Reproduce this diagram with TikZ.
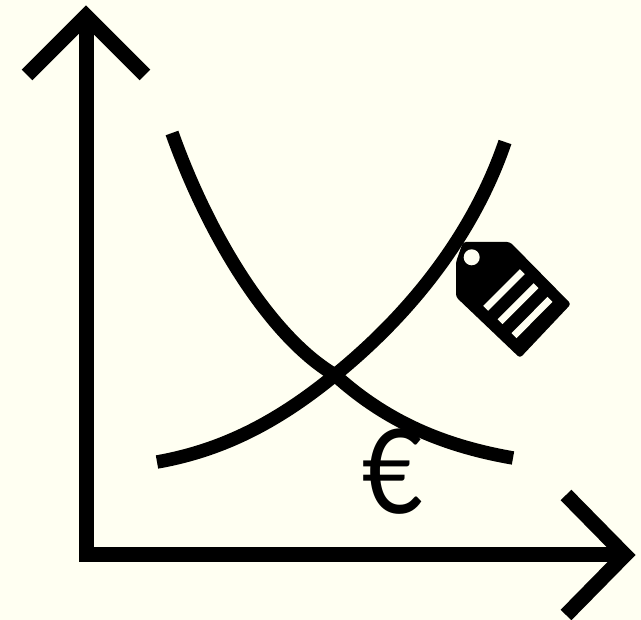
\documentclass[tikz,border=0pt]{standalone}
\usepackage{fontspec}
\newfontfamily\eurofont{Lato}
\definecolor{paper}{HTML}{FFFFF2}
\tikzset{
  inkline/.style={draw=black,line width=15pt},
  curveline/.style={draw=black,line width=13.5pt},
  stripe/.style={draw=paper,line width=7pt}
}
\begin{document}
\begin{tikzpicture}[x=1pt,y=-1pt]
\fill[paper] (0,0) rectangle (641,620);
\useasboundingbox (0,0) rectangle (641,620);
% axes
\draw[inkline,line join=miter] (86,20) -- (86,555) -- (622,555);
\draw[inkline,line join=miter] (27,75) -- (86,16) -- (145,75);
\draw[inkline,line join=miter] (566,495) -- (625,555) -- (566,615);
% curves
\draw[curveline] (172,133) .. controls (212,245) and (275,340) .. (335,375) .. controls (390,425) and (450,447) .. (513,458);
\draw[curveline] (157,462) .. controls (225,450) and (280,420) .. (335,375) .. controls (415,310) and (475,230) .. (505,142);
% tag
\fill[black,rounded corners=3pt] (463,242) -- (510,242) -- (571,304) -- (520,358) -- (456,297) -- (456,262) -- cycle;
\fill[paper] (471.7,257.3) circle (8);
\draw[stripe] (522.3,271.7) -- (485.7,308.3);
\draw[stripe] (536,285.7) -- (500,321.7);
\draw[stripe] (550,299.3) -- (514,335.7);
% euro
\node[inner sep=0pt,xscale=0.9,font=\eurofont\fontsize{117}{117}\selectfont] (euro) at (393,472) {€};
\end{tikzpicture}
\end{document}
